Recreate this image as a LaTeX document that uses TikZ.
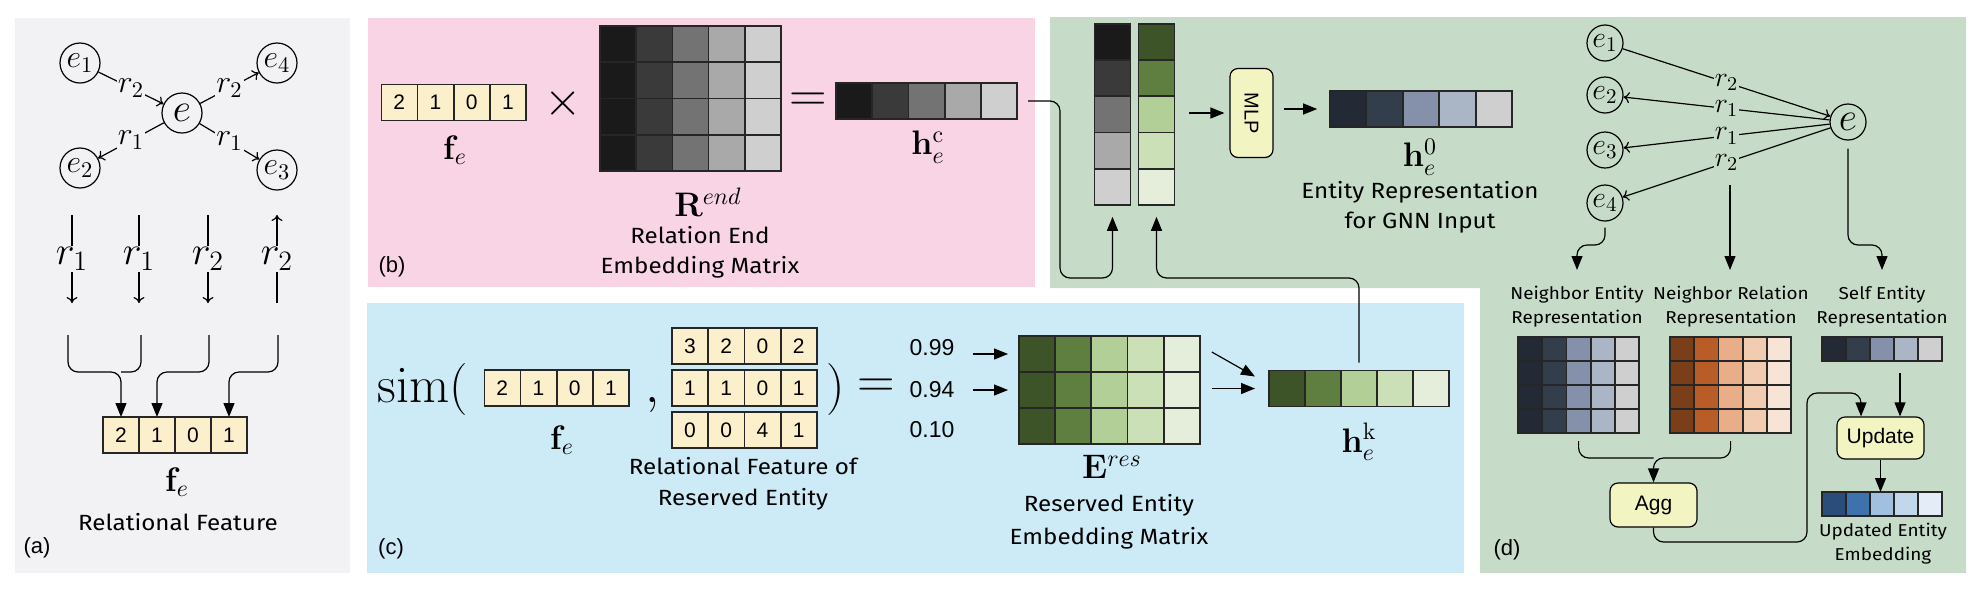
\RequirePackage{fix-cm}
\documentclass[tikz,border=0pt]{standalone}
\usepackage[no-math]{fontspec}
\setmainfont[FakeStretch=1.1]{Fira Sans}
\newfontfamily\helv{Liberation Sans}
\usepackage{graphicx}
\usetikzlibrary{arrows.meta,calc}
\newcommand\myfs[1]{\fontsize{#1}{#1}\selectfont}
\definecolor{bgA}{HTML}{F2F2F5}
\definecolor{bgB}{HTML}{F9D4E5}
\definecolor{bgC}{HTML}{CDEBF7}
\definecolor{bgD}{HTML}{C6DCC8}
\definecolor{ylw}{HTML}{FCF0CC}
\definecolor{boxy}{HTML}{F2F4C2}
\definecolor{k1}{HTML}{1A1A1A}\definecolor{k2}{HTML}{3A3A3A}\definecolor{k3}{HTML}{737373}\definecolor{k4}{HTML}{A9A9A9}\definecolor{k5}{HTML}{CFCFCF}
\definecolor{g1}{HTML}{3C5427}\definecolor{g2}{HTML}{5E7F40}\definecolor{g3}{HTML}{B2CF97}\definecolor{g4}{HTML}{CCE0B8}\definecolor{g5}{HTML}{E5EEDB}
\definecolor{n1}{HTML}{232A35}\definecolor{n2}{HTML}{333E4C}\definecolor{n3}{HTML}{8591AB}\definecolor{n4}{HTML}{AAB5C6}\definecolor{n5}{HTML}{CFCFCF}
\definecolor{o1}{HTML}{7A3E19}\definecolor{o2}{HTML}{B85C28}\definecolor{o3}{HTML}{E9AE87}\definecolor{o4}{HTML}{F1CCB0}\definecolor{o5}{HTML}{F7E4D7}
\definecolor{u1}{HTML}{2B4D7A}\definecolor{u2}{HTML}{3E72AD}\definecolor{u3}{HTML}{A1C0E0}\definecolor{u4}{HTML}{C1D7EC}\definecolor{u5}{HTML}{E3ECF7}
\begin{document}
\begin{tikzpicture}[x=0.5pt,y=-0.5pt,
 cell/.style={draw=black!85, line width=0.75pt, minimum width=18pt, minimum height=18pt, inner sep=0pt, outer sep=0pt},
 ncell/.style={cell, fill=ylw, font=\helv\myfs{10.5}},
 scell/.style={cell, minimum width=12pt, minimum height=12pt},
 ent/.style={circle, draw, line width=0.6pt, inner sep=0pt},
 tarrow/.style={-{To[length=3pt,width=5.5pt]}, line width=0.6pt},
 farrow/.style={-{Triangle[length=7pt,width=5.5pt]}, line width=0.6pt},
 txt/.style={align=center, font=\fontsize{11}{15}\selectfont},
 dtxt/.style={align=center, font=\fontsize{8.6}{12}\selectfont},
 pbox/.style={draw, line width=0.6pt, rounded corners=4pt, fill=boxy, inner sep=0pt, font=\helv\myfs{10.5}},
 plabel/.style={font=\helv\myfs{11}},
 bm/.style={font=\myfs{17}},
 lblA/.style={midway, fill=bgA, inner sep=0.5pt},
 lblD/.style={midway, fill=bgD, inner sep=0.5pt, font=\myfs{14}},
]
\useasboundingbox (0,0) rectangle (1980,590);
% panels
\fill[bgA] (15,18) rectangle (350,573);
\fill[bgB] (368,18) rectangle (1035,287);
\fill[bgC] (367,303) rectangle (1464,573);
\fill[bgD] (1050,17) -| (1966,573) -| (1480,288) -| cycle;

% ---------- panel (a)
\node[ent, minimum size=20pt, font=\myfs{16}] (ae1) at (80,63) {$e_1$};
\node[ent, minimum size=20pt, font=\myfs{16}] (ae4) at (277,63) {$e_4$};
\node[ent, minimum size=20pt, font=\myfs{20}] (ae) at (182,113) {$e$};
\node[ent, minimum size=20pt, font=\myfs{16}] (ae2) at (80,168) {$e_2$};
\node[ent, minimum size=20pt, font=\myfs{16}] (ae3) at (277,170) {$e_3$};
\draw[tarrow] (ae1) -- node[lblA, font=\myfs{16}]{$r_2$} (ae);
\draw[tarrow] (ae) -- node[lblA, font=\myfs{16}]{$r_2$} (ae4);
\draw[tarrow] (ae) -- node[lblA, font=\myfs{16}]{$r_1$} (ae2);
\draw[tarrow] (ae) -- node[lblA, font=\myfs{16}]{$r_1$} (ae3);
\foreach \xx [count=\i] in {72,139,208,277}{
  \coordinate (vt\i) at (\xx,215);
  \coordinate (vb\i) at (\xx,303);
}
\draw[tarrow] (vt1) -- node[lblA, font=\myfs{20}]{$r_1$} (vb1);
\draw[tarrow] (vt2) -- node[lblA, font=\myfs{20}]{$r_1$} (vb2);
\draw[tarrow] (vt3) -- node[lblA, font=\myfs{20}]{$r_2$} (vb3);
\draw[tarrow] (vb4) -- node[lblA, font=\myfs{20}]{$r_2$} (vt4);
\foreach \v [count=\i] in {2,1,0,1}
  \node[ncell] (fa\i) at ({85+36*\i},435) {\v};
\coordinate (b1) at (68,335); \coordinate (b2) at (141,335);
\coordinate (b3) at (209,335); \coordinate (b4) at (278,335);
\coordinate (ja) at (0,372);
\draw[line width=0.6pt, rounded corners=5pt] (b2) |- (fa1.north |- ja);
\draw[farrow, rounded corners=5pt] (b1) |- (fa1.north |- ja) -- (fa1.north);
\draw[farrow, rounded corners=5pt] (b3) |- (fa2.north |- ja) -- (fa2.north);
\draw[farrow, rounded corners=5pt] (b4) |- (fa4.north |- ja) -- (fa4.north);
\node[bm] (afe) at (177,482) {$\mathbf{f}_e$};
\node[txt] (tRF) at (178,522) {Relational Feature};
\node[plabel] (la) at (37,548) {(a)};

% ---------- panel (b)
\foreach \v [count=\i] in {2,1,0,1}
  \node[ncell] (fb\i) at ({363+36.25*\i},102.5) {\v};
\node[bm] (bfe) at (455,150) {$\mathbf{f}_e$};
\node[font=\myfs{24}] (btimes) at (563,103) {$\times$};
\foreach \r in {1,...,4}
  \foreach \col [count=\c] in {k1,k2,k3,k4,k5}
    \node[cell, fill=\col] (R\r\c) at ({581.9+36.2*\c},{7.75+36.25*\r}) {};
\node[bm] (Rl) at (708,202) {$\mathbf{R}^{end}$};
\node[txt] (Rt) at (700,252) {Relation End\\Embedding Matrix};
\node[font=\myfs{26}] (beq) at (808,102) {$=$};
\foreach \col [count=\c] in {k1,k2,k3,k4,k5}
  \node[cell, fill=\col] (hc\c) at ({818+36.2*\c},101) {};
\node[bm] (hcl) at (928,147) {$\mathbf{h}_e^{\mathrm{c}}$};
\node[plabel] (lb) at (392,267) {(b)};

% ---------- green top
\foreach \col [count=\r] in {k1,k2,k3,k4,k5}
  \node[cell, fill=\col] (gc\r) at (1112.5,{5.8+36.2*\r}) {};
\foreach \col [count=\r] in {g1,g2,g3,g4,g5}
  \node[cell, fill=\col] (kc\r) at (1156.5,{5.8+36.2*\r}) {};
\node[pbox, minimum width=21.5pt, minimum height=44.5pt, font=\helv\myfs{10}] (mlp) at (1251.5,113) {\rotatebox{-90}{MLP}};
\foreach \col [count=\c] in {n1,n2,n3,n4,n5}
  \node[cell, fill=\col] (hz\c) at ({1311.8+36.4*\c},109) {};
\draw[farrow] ($(kc3.east |- mlp.west)+(7pt,0)$) -- ($(mlp.west)+(-2.5pt,0)$);
\draw[farrow] ($(mlp.east |- hz1.west)+(5pt,0)$) -- ($(hz1.west)+(-6.5pt,0)$);
\node[bm] (h0l) at (1420,157) {$\mathbf{h}_e^{0}$};
\node[txt] (h0t) at (1420,207) {Entity Representation\\for GNN Input};
\coordinate (jg) at (0,278);
\coordinate (gt) at ($(gc5.south)+(0,-6pt)$);
\coordinate (kt) at ($(kc5.south)+(0,-6pt)$);
\draw[farrow, rounded corners=5pt] ($(hc5.east)+(5.5pt,0)$) -| (1060,278) -| (gt);

% ---------- panel (c)
\node[anchor=base west, font=\myfs{26}, inner sep=0pt] (sim) at (377,402) {$\mathrm{sim}($};
\foreach \v [count=\i] in {2,1,0,1}
  \node[ncell] (fc\i) at ({466+36.25*\i},388) {\v};
\node[bm] (cfe) at (562,440) {$\mathbf{f}_e$};
\node[anchor=base, font=\myfs{26}, inner sep=0pt] (comma) at (653,402) {$,$};
\foreach \vals [count=\r] in {{3,2,0,2},{1,1,0,1},{0,0,4,1}}
  \foreach \v [count=\i] in \vals
    \node[ncell] (s\r\i) at ({653.75+36.25*\i},{304+42*\r}) {\v};
\node[anchor=base, font=\myfs{26}, inner sep=0pt] (rpar) at (836,402) {$)$};
\node[txt, font=\fontsize{11}{15.5}\selectfont] (rft) at (743,483.5) {Relational Feature of\\Reserved Entity};
\node[font=\myfs{26}] (ceq) at (876,388) {$=$};
\node[font=\helv\myfs{11.5}, inner sep=0pt] (n1) at (932,348) {0.99};
\node[font=\helv\myfs{11.5}, inner sep=0pt] (n2) at (932,390) {0.94};
\node[font=\helv\myfs{11.5}, inner sep=0pt] (n3) at (932,430) {0.10};
\foreach \r in {1,2,3}
  \foreach \col [count=\c] in {g1,g2,g3,g4,g5}
    \node[cell, fill=\col] (E\r\c) at ({1000.8+36.2*\c},{318+36*\r}) {};
\draw[farrow] ($(n1.east |- E11.west)+(9pt,0)$) -- ($(E11.west)+(-5.5pt,0)$);
\draw[farrow] ($(n2.east |- E21.west)+(9pt,0)$) -- ($(E21.west)+(-5.5pt,0)$);
\node[bm] (El) at (1112,467) {$\mathbf{E}^{res}$};
\node[txt, font=\fontsize{11}{16.5}\selectfont] (Et) at (1109,521.5) {Reserved Entity\\Embedding Matrix};
\foreach \col [count=\c] in {g1,g2,g3,g4,g5}
  \node[cell, fill=\col] (hk\c) at ({1251+36*\c},388.5) {};
\draw[farrow] ($(E15.east)+(6pt,1pt)$) -- ($(hk1.west)+(-7pt,6pt)$);
\draw[farrow] ($(E25.east |- hk1.west)+(6pt,0)$) -- ($(hk1.west)+(-7pt,0)$);
\node[bm] (hkl) at (1359,442) {$\mathbf{h}_e^{\mathrm{k}}$};
\node[plabel] (lc) at (391,549) {(c)};
\draw[farrow, rounded corners=5pt] ($(hk3.north)+(0,4pt)$) |- (kt |- jg) -- (kt);

% ---------- panel (d) top
\node[ent, minimum size=18pt, font=\myfs{15}] (de1) at (1605,43) {$e_1$};
\node[ent, minimum size=18pt, font=\myfs{15}] (de2) at (1605,95) {$e_2$};
\node[ent, minimum size=18pt, font=\myfs{15}] (de3) at (1605,150) {$e_3$};
\node[ent, minimum size=18pt, font=\myfs{15}] (de4) at (1605,203) {$e_4$};
\node[ent, minimum size=18pt, font=\myfs{20}] (de) at (1848,122) {$e$};
\draw[tarrow] (de1) -- node[lblD]{$r_2$} (de);
\draw[tarrow] (de) -- node[lblD]{$r_1$} (de2);
\draw[tarrow] (de) -- node[lblD]{$r_1$} (de3);
\draw[tarrow] (de) -- node[lblD]{$r_2$} (de4);
\coordinate (jd) at (0,245);
\coordinate (t1) at (1577,270);
\coordinate (t2) at (1730,270);
\coordinate (t3) at (1882,270);
\coordinate (m0) at (1730,185);
\draw[farrow, rounded corners=5pt] ($(de4.south)+(0,-3pt)$) |- (t1 |- jd) -- (t1);
\draw[farrow] (m0) -- (t2);
\draw[farrow, rounded corners=5pt] ($(de.south)+(0,-4pt)$) |- (t3 |- jd) -- (t3);

% ---------- panel (d) bottom
\node[dtxt] (tnE) at (1577,307) {Neighbor Entity\\Representation};
\node[dtxt] (tnR) at (1731,307) {Neighbor Relation\\Representation};
\node[dtxt] (tS) at (1882,306.5) {Self Entity\\Representation};
\foreach \r in {1,...,4}{
  \foreach \col [count=\c] in {n1,n2,n3,n4,n5}
    \node[scell, fill=\col] (nE\r\c) at ({1506+24.2*\c},{325+24*\r}) {};
  \foreach \col [count=\c] in {o1,o2,o3,o4,o5}
    \node[scell, fill=\col] (nR\r\c) at ({1658+24.2*\c},{325+24*\r}) {};
}
\foreach \col [count=\c] in {n1,n2,n3,n4,n5}
  \node[scell, fill=\col] (sv\c) at ({1810+24*\c},349) {};
\foreach \col [count=\c] in {u1,u2,u3,u4,u5}
  \node[scell, fill=\col] (ud\c) at ({1810+24*\c},504) {};
\node[pbox, minimum width=43.5pt, minimum height=22pt] (agg) at (1653.5,505) {Agg};
\node[pbox, minimum width=43.5pt, minimum height=21pt] (upd) at (1880.5,438) {Update};
\coordinate (j5) at (0,458);
\draw[line width=0.6pt, rounded corners=5pt] ($(nE43.south)+(0,-4pt)$) |- (agg.north |- j5);
\draw[farrow, rounded corners=5pt] ($(nR43.south)+(0,-4pt)$) |- (agg.north |- j5) -- (agg.north);
\coordinate (uu1) at ($(upd.north)+(-9.75pt,0)$);
\coordinate (uu2) at ($(upd.north)+(9.75pt,0)$);
\coordinate (j6) at (0,542);
\coordinate (j7) at (1807,393);
\coordinate (js) at (0,373);
\draw[farrow, rounded corners=5pt] (agg.south) |- (j7 |- j6) |- (uu1 |- j7) -- (uu1);
\draw[farrow] (uu2 |- js) -- (uu2);
\draw[farrow] (upd.south) -- (upd.south |- ud3.north);
\node[dtxt] (tU) at (1883,543.5) {Updated Entity\\Embedding};
\node[plabel] (ld) at (1507,550) {(d)};
\end{tikzpicture}
\end{document}
